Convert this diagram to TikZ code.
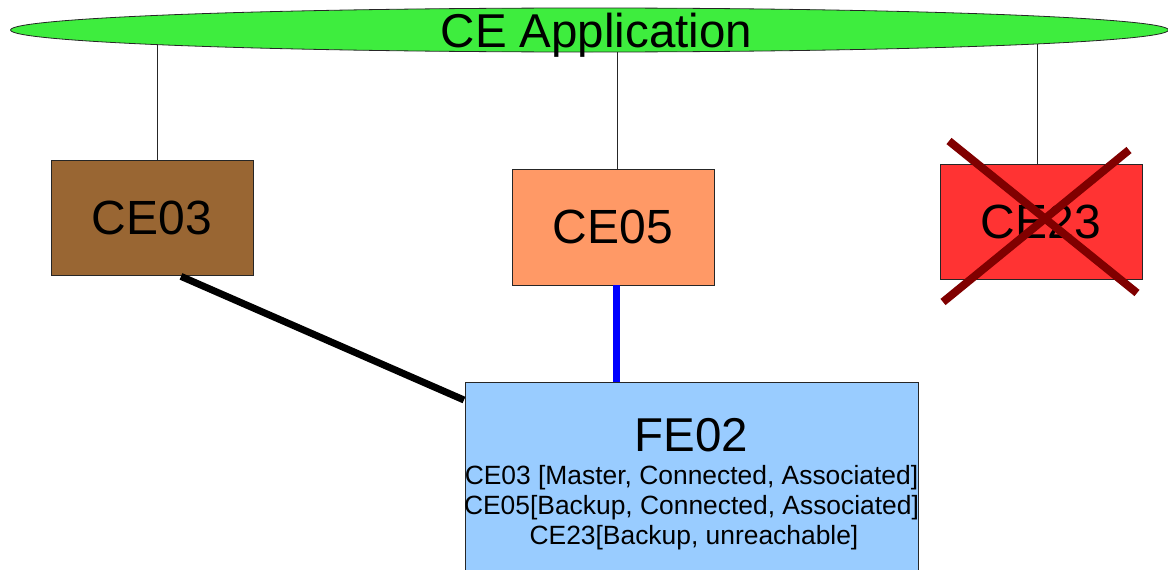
\documentclass[tikz,border=0pt]{standalone}
\usepackage{fontspec}
\setmainfont{Liberation Sans}
\usetikzlibrary{shapes.geometric,calc,backgrounds}
\definecolor{appgreen}{RGB}{62,237,62}
\definecolor{cebrown}{RGB}{153,102,51}
\definecolor{ceorange}{RGB}{255,153,102}
\definecolor{cered}{RGB}{255,51,51}
\definecolor{feblue}{RGB}{153,204,255}
\definecolor{xred}{RGB}{128,0,0}
\tikzset{
  cebox/.style={draw=black!85, line width=0.8pt, minimum width=202pt, minimum height=115pt, inner sep=0pt, font=\fontsize{48}{56}\selectfont},
  thinlink/.style={draw=black!85, line width=0.8pt},
  felink/.style={line width=7pt},
  crossline/.style={draw=xred, line width=8pt},
  smalltext/.style={anchor=base, inner sep=0pt, font=\fontsize{26.4}{30}\selectfont},
}
\begin{document}
\begin{tikzpicture}[x=1pt,y=-1pt]
\useasboundingbox (0,0) rectangle (1168,570);
% application ellipse
\node[ellipse, draw=black!85, line width=0.8pt, fill=appgreen, minimum width=1158pt, minimum height=44pt, inner sep=0pt] (app) at (589.5,30) {};
\node[anchor=base, inner sep=0pt, font=\fontsize{47.5}{56}\selectfont] (apptext) at (596.5,47) {CE Application};
% CE boxes
\node[cebox, fill=cebrown] (ce03) at (152,217.5) {CE03};
\node[cebox, fill=ceorange, minimum height=116pt] (ce05) at (613,227) {CE05};
\node[cebox, fill=cered] (ce23) at (1041,221.5) {CE23};
% FE box
\node[draw=black!85, line width=0.8pt, fill=feblue, anchor=north west, minimum width=453pt, minimum height=230pt, inner sep=0pt] (fe) at (465,382) {};
\node[anchor=base, inner sep=0pt, font=\fontsize{47.5}{56}\selectfont] (fetitle) at (691.5,451) {FE02};
\node[smalltext] (fel1) at (691.5,484) {CE03 [Master, Connected, Associated]};
\node[smalltext] (fel2) at (691.5,514) {CE05[Backup, Connected, Associated]};
\node[smalltext] (fel3) at (694,544) {CE23[Backup, unreachable]};
% thin links to application (behind ellipse)
\begin{scope}[on background layer]
\draw[thinlink] ($(ce03.north)+(5,0)$) -- ($(ce03.north |- app.center)+(5,0)$);
\draw[thinlink] ($(ce05.north)+(4,0)$) -- ($(ce05.north |- app.center)+(4,0)$);
\draw[thinlink] ($(ce23.north)+(-4,0)$) -- ($(ce23.north |- app.center)+(-4,0)$);
\end{scope}
% CE to FE links
\draw[felink, black] ($(ce03.south)+(29,1)$) -- ($(fe.north west)+(-1,18)$);
\draw[felink, blue] ($(ce05.south)+(3,0)$) -- ($(ce05.south |- fe.north)+(3,0)$);
% cross over CE23
\draw[crossline] ($(ce23.center)+(-92,-80.5)$) -- ($(ce23.center)+(96,71.5)$);
\draw[crossline] ($(ce23.center)+(88,-71.5)$) -- ($(ce23.center)+(-98,80.5)$);
\end{tikzpicture}
\end{document}
